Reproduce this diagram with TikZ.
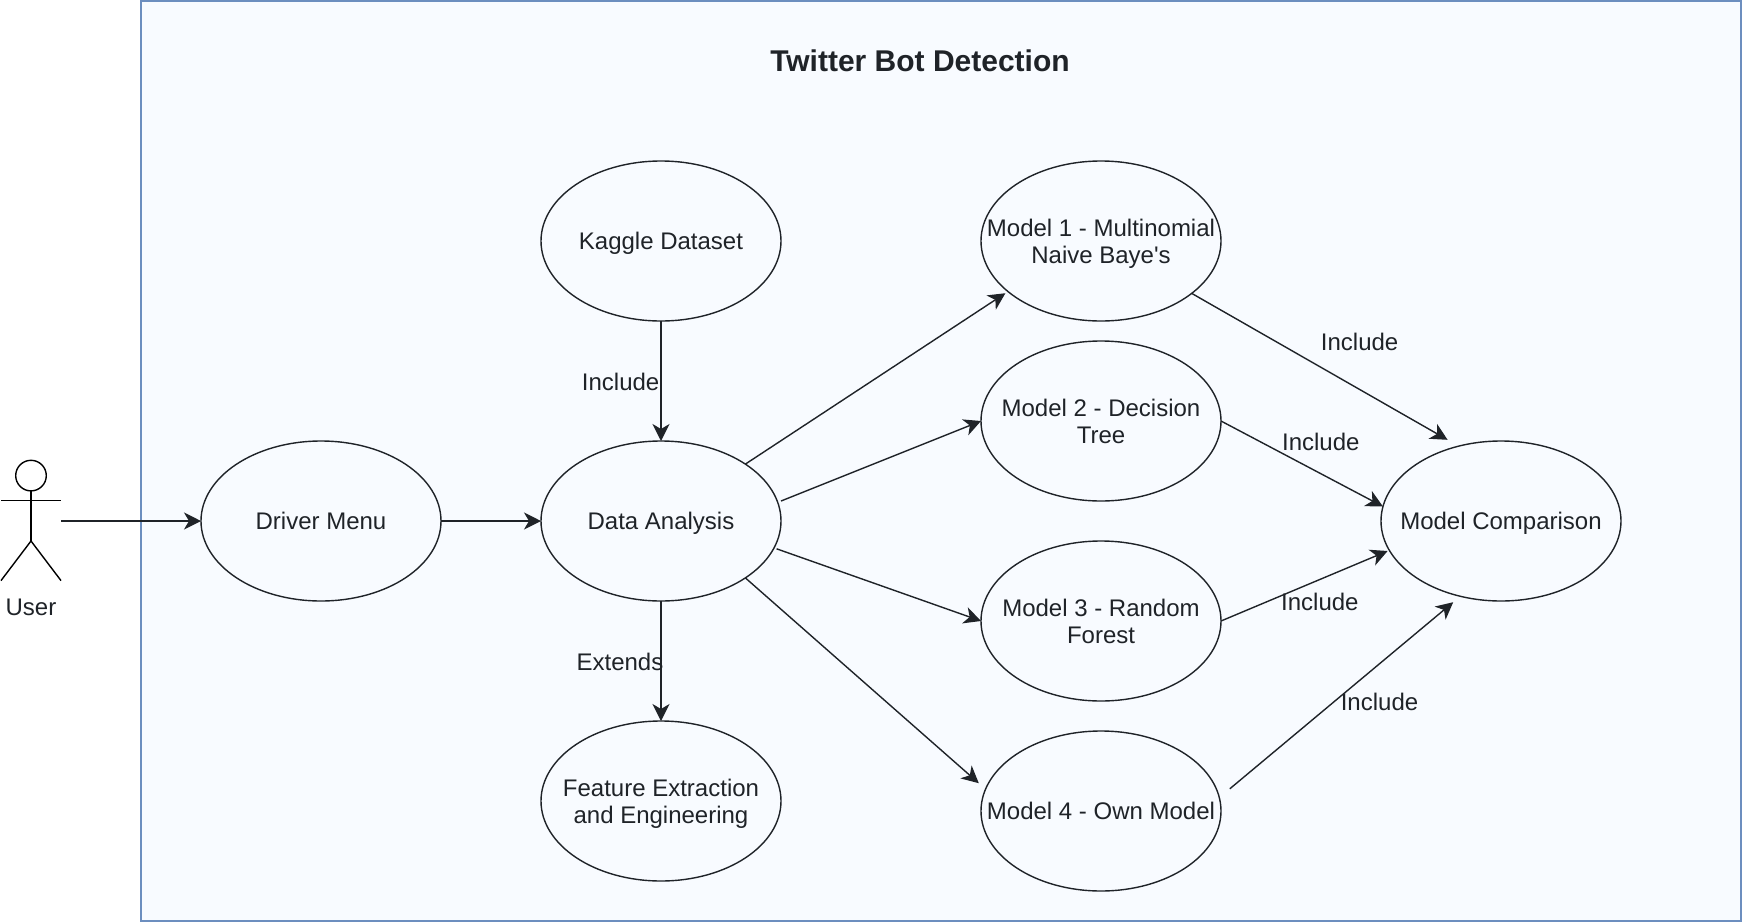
\documentclass[tikz,border=0pt]{standalone}
\usepackage{fontspec}
\setmainfont{Liberation Sans}[Ligatures=TeXOff]
\usetikzlibrary{arrows.meta,shapes.geometric,positioning}
\definecolor{inkC}{HTML}{1F2328}
\definecolor{frameC}{HTML}{6C8EBF}
\definecolor{paperC}{HTML}{F8FBFF}
\tikzstyle{caseNode} = [ellipse, minimum width=120pt, minimum height=80pt, inner sep=0pt, outer sep=0pt, text centered, line width=0.7pt, draw=inkC, text=inkC]
\tikzstyle{frameNode} = [rectangle, minimum width=800pt, minimum height=460pt, inner sep=0pt, line width=0.75pt, draw=frameC, fill=paperC]
\tikzstyle{eNode} = [inner sep=0pt, text=inkC]
\tikzstyle{arrow} = [line width=0.7pt,-{Stealth[length=8.5pt,width=8.5pt,inset=2.5pt]},draw=inkC]
\tikzstyle{stick} = [line width=0.7pt,draw=black]
% node text may be wider than the ellipse, so it takes no room
\newcommand{\tx}[1]{\smash{\raisebox{-4.7pt}{\makebox[0pt]{\begin{tabular}{@{}c@{}}#1\end{tabular}}}}}
\begin{document}
\begin{tikzpicture}[node distance=140pt, font=\fontsize{12}{13.9}\selectfont]
    \useasboundingbox (0pt,0pt) rectangle (871pt,-461pt);
    \node (frame) [frameNode] at (470.5pt,-230.5pt) {};
    \node (title) [eNode, font=\fontsize{15}{18}\selectfont\bfseries] at (460pt,-30.5pt) {Twitter Bot Detection};

    \node (driver) [caseNode] at (160.5pt,-260.5pt) {\tx{Driver Menu}};
    \node (data) [caseNode, right of=driver, xshift=30pt] {\tx{Data Analysis}};
    \node (kaggle) [caseNode, above of=data] {\tx{Kaggle Dataset}};
    \node (feature) [caseNode, below of=data] {\tx{Feature Extraction\\and Engineering}};
    \node (model2) [caseNode, right of=data, xshift=80pt, yshift=50pt] {\tx{Model 2 - Decision\\Tree}};
    \node (model1) [caseNode, above of=model2, yshift=-50pt] {\tx{Model 1 - Multinomial\\Naive Baye's}};
    \node (model3) [caseNode, right of=data, xshift=80pt, yshift=-50pt] {\tx{Model 3 - Random\\Forest}};
    \node (model4) [caseNode, below of=model3, yshift=45pt] {\tx{Model 4 - Own Model}};
    \node (compare) [caseNode, right of=data, xshift=280pt] {\tx{Model Comparison}};

    % stick figure
    \node (head) [circle, minimum size=15.3pt, inner sep=0pt, outer sep=0pt, stick] at (15.5pt,-237.8pt) {};
    \coordinate (hip) at (15.5pt,-270.5pt);
    \coordinate (armL) at (0.5pt,-250.3pt);
    \coordinate (armR) at (30.5pt,-250.3pt);
    \coordinate (footL) at (0.5pt,-290.3pt);
    \coordinate (footR) at (30.5pt,-290.3pt);
    \node (user) [eNode] at (15.5pt,-303.8pt) {User};
    \draw [stick] (head) -- (hip);
    \draw [stick] (armL) -- (armR);
    \draw [stick] (footL) -- (hip) -- (footR);

    % free ends
    \coordinate (userOut) at (30.5pt,-260.5pt);
    \coordinate (cmpTop) at ([shift={(-26.7pt,40.6pt)}]compare.center);
    \coordinate (cmpLow) at ([shift={(-23.9pt,-40.6pt)}]compare.center);
    \coordinate (m4Out) at ([shift={(64.4pt,11.1pt)}]model4.center);
    \coordinate (m4In) at ([shift={(-61.1pt,13.9pt)}]model4.center);
    \coordinate (m1In) at ([shift={(-47.8pt,-26.1pt)}]model1.center);
    \coordinate (dataM2) at ([shift={(60pt,10pt)}]data.center);
    \coordinate (dataM3) at ([shift={(57.8pt,-13.9pt)}]data.center);
    \coordinate (cmpM3) at ([shift={(-56.7pt,-15pt)}]compare.center);

    \draw [arrow] (userOut) -- (driver);
    \draw [arrow] (driver) -- (data);
    \draw [arrow] (kaggle) -- node[eNode, left, xshift=-0.5pt, yshift=-0.5pt] {Include} (data);
    \draw [arrow] (data) -- node[eNode, left, xshift=1.5pt, yshift=-0.5pt] {Extends} (feature);

    \draw [arrow] (data.34) -- (m1In);
    \draw [arrow] (dataM2) -- (model2.west);
    \draw [arrow] (dataM3) -- (model3.west);
    \draw [arrow] (data.-34) -- (m4In);

    \draw [arrow] (model1.-30.3) -- node[eNode, xshift=20pt, yshift=12.5pt] {Include} (cmpTop);
    \draw [arrow] (model2.east) -- node[eNode, xshift=9.4pt, yshift=11.1pt] {Include} (compare.173.7);
    \draw [arrow] (model3.east) -- node[eNode, xshift=7.8pt, yshift=-8pt] {Include} (cmpM3);
    \draw [arrow] (m4Out) -- node[eNode, xshift=19pt, yshift=-3.3pt] {Include} (cmpLow);
\end{tikzpicture}
\end{document}
